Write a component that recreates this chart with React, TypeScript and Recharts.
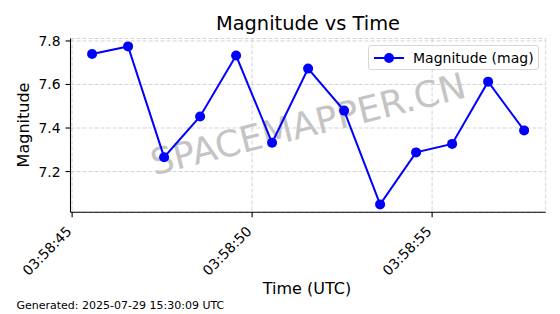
import React from 'react';
import { LineChart, Line, XAxis, YAxis, CartesianGrid, Legend } from 'recharts';

// seconds past 03:58:00 UTC
const timeSeconds = [45.555, 46.555, 47.555, 48.555, 49.555, 50.555, 51.555, 52.555, 53.555, 54.555, 55.555, 56.555, 57.555];
const magnitudes = [7.74, 7.775, 7.266, 7.453, 7.733, 7.332, 7.673, 7.48, 7.049, 7.288, 7.327, 7.613, 7.389];
const xTicks = [45, 50, 55];
const yTicks = [7.2, 7.4, 7.6, 7.8];
const titleText = 'Magnitude vs Time';
const xLabel = 'Time (UTC)';
const yLabel = 'Magnitude';
const seriesName = 'Magnitude (mag)';
const generatedText = 'Generated: 2025-07-29 15:30:09 UTC';
const watermark = 'SPACEMAPPER.CN';

const data = timeSeconds.map((t, i) => ({ t, mag: magnitudes[i] }));

const pad = (lo: number, hi: number): [number, number] => {
  const m = (hi - lo) * 0.05;
  return [lo - m, hi + m];
};
const xDomain = pad(Math.min(...timeSeconds), Math.max(...timeSeconds));
const yDomain = pad(Math.min(...magnitudes), Math.max(...magnitudes));

const FONT = 'DejaVu Sans, sans-serif';
const fmtTime = (s: number) => `03:58:${String(Math.round(s)).padStart(2, '0')}`;

const XTick = (props: any) => {
  const { x, y, payload } = props;
  const tx = x + 0.5;
  const ty = y + 15;
  return (
    <text x={tx} y={ty} transform={`rotate(-45, ${tx}, ${ty})`} textAnchor="end" fontSize={13.9} fontFamily={FONT} fill="#000">
      {fmtTime(payload.value)}
    </text>
  );
};

const YTick = (props: any) => {
  const { x, y, payload } = props;
  return (
    <text x={x} y={y + 5} textAnchor="end" fontSize={13.9} fontFamily={FONT} fill="#000">
      {payload.value.toFixed(1)}
    </text>
  );
};

const LegendBox = () => (
  <div
    style={{
      width: 171,
      height: 25,
      boxSizing: 'border-box',
      border: '1px solid #d6d6d6',
      borderRadius: 3,
      background: 'rgba(255,255,255,0.8)',
      display: 'flex',
      alignItems: 'center',
      fontFamily: FONT,
      fontSize: 14,
      color: '#000',
    }}
  >
    <svg width={30} height={12} style={{ marginLeft: 4.5, flex: 'none' }}>
      <line x1={0} y1={6} x2={30} y2={6} stroke="#0000ff" strokeWidth={2} />
      <circle cx={15} cy={6} r={5} fill="#0000ff" />
    </svg>
    <span style={{ marginLeft: 9.5, whiteSpace: 'nowrap' }}>{seriesName}</span>
  </div>
);

export default function App() {
  return (
    <div style={{ position: 'fixed', left: 0, top: 0, width: 560, height: 314, background: '#fff' }}>
      <svg
        width={560}
        height={314}
        style={{ position: 'absolute', left: 0, top: 0, pointerEvents: 'none' }}
        fontFamily={FONT}
      >
        <text
          x={0}
          y={0}
          transform="translate(308,124) rotate(-14)"
          textAnchor="middle"
          dominantBaseline="central"
          fontSize={36}
          fill="#c4c4c4"
        >
          {watermark}
        </text>
      </svg>
      <div style={{ position: 'absolute', left: 0, top: 0 }}>
        <LineChart
          width={560}
          height={314}
          data={data}
          margin={{ top: 38.5, right: 14.3, left: 0, bottom: 0 }}
        >
          <CartesianGrid stroke="#c8c8c8" strokeDasharray="4 2" strokeWidth={0.8} />
          <XAxis
            dataKey="t"
            type="number"
            domain={xDomain}
            ticks={xTicks}
            allowDataOverflow
            height={101.7}
            tick={<XTick />}
            tickSize={5}
            tickMargin={0}
            axisLine={{ stroke: '#000', strokeWidth: 1.1 }}
            tickLine={{ stroke: '#000', strokeWidth: 1.1 }}
            interval={0}
          />
          <XAxis
            xAxisId="top"
            orientation="top"
            type="number"
            domain={xDomain}
            height={0}
            tick={false}
            tickLine={false}
            axisLine={{ stroke: '#000', strokeWidth: 1.1 }}
          />
          <YAxis
            type="number"
            domain={yDomain}
            ticks={yTicks}
            allowDataOverflow
            width={70.5}
            tick={<YTick />}
            tickSize={5}
            tickMargin={5}
            axisLine={{ stroke: '#000', strokeWidth: 1.1 }}
            tickLine={{ stroke: '#000', strokeWidth: 1.1 }}
            interval={0}
          />
          <YAxis
            yAxisId="right"
            orientation="right"
            type="number"
            domain={yDomain}
            width={0}
            tick={false}
            tickLine={false}
            axisLine={{ stroke: '#000', strokeWidth: 1.1 }}
          />
          <Legend
            layout="horizontal"
            verticalAlign="middle"
            align="center"
            content={<LegendBox />}
            wrapperStyle={{ left: 368, top: 45, width: 171, height: 25 }}
          />
          <Line
            type="linear"
            dataKey="mag"
            name={seriesName}
            stroke="#0000ff"
            strokeWidth={2}
            dot={{ r: 5, fill: '#0000ff', stroke: '#0000ff', strokeWidth: 0 }}
            isAnimationActive={false}
          />
        </LineChart>
      </div>
      <svg
        width={560}
        height={314}
        style={{ position: 'absolute', left: 0, top: 0, pointerEvents: 'none' }}
        fontFamily={FONT}
      >
        <text x={308} y={30} textAnchor="middle" fontSize={19.4} fill="#000">{titleText}</text>
        <text x={307} y={294} textAnchor="middle" fontSize={16} fill="#000">{xLabel}</text>
        <text x={0} y={0} transform="translate(29,125) rotate(-90)" textAnchor="middle" fontSize={16} fill="#000">{yLabel}</text>
        <text x={16.5} y={309} fontSize={11} fill="#000">{generatedText}</text>
      </svg>
    </div>
  );
}
